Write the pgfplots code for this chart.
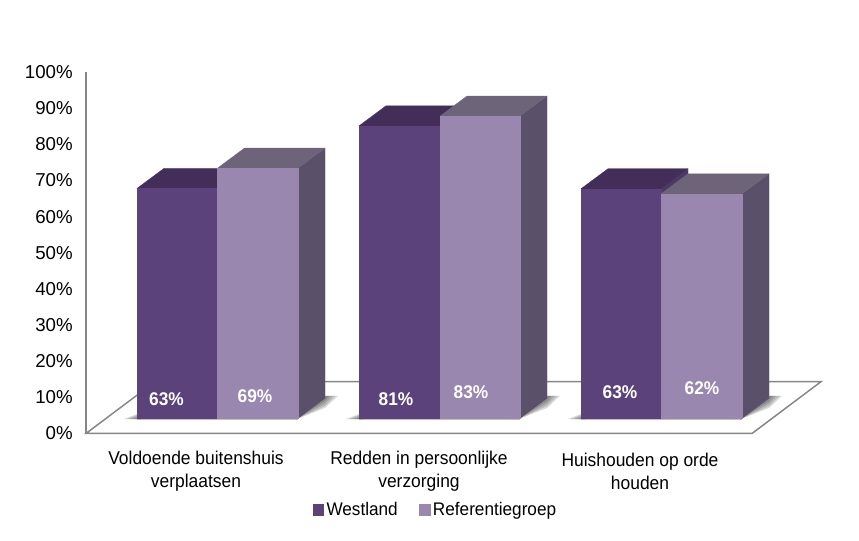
\documentclass[border=0pt]{standalone}
\usepackage{fontspec}
\setmainfont{Liberation Sans}
\newfontfamily\narrowsans[FakeStretch=0.94]{Liberation Sans}
\usepackage{pgfplots}
\pgfplotsset{compat=1.18}
\definecolor{wfront}{RGB}{92,66,122}
\definecolor{wtop}{RGB}{67,46,90}
\definecolor{wside}{RGB}{76,58,98}
\definecolor{rfront}{RGB}{153,135,175}
\definecolor{rtop}{RGB}{110,100,122}
\definecolor{rside}{RGB}{90,80,105}
\definecolor{axisgray}{RGB}{134,134,134}
% x is in reference pixels, y in percent
\newcommand{\ybase}{4.2}
\newcommand{\dx}{27}
\newcommand{\dy}{5.55}
% x left, x right, value, front, top, side
\newcommand{\threedbar}[6]{
 \addplot[forget plot, draw=#6, line width=0.2pt, fill=#6] coordinates {
  (#2,{\ybase}) (#2+\dx,{\ybase+\dy}) (#2+\dx,{\ybase+\dy+#3}) (#2,{\ybase+#3})} -- cycle;
 \addplot[forget plot, draw=#5, line width=0.2pt, fill=#5] coordinates {
  (#1,{\ybase+#3}) (#2,{\ybase+#3}) (#2+\dx,{\ybase+#3+\dy}) (#1+\dx,{\ybase+#3+\dy})} -- cycle;
 \addplot[forget plot, draw=#4, line width=0.2pt, fill=#4] coordinates {
  (#1,{\ybase}) (#2,{\ybase}) (#2,{\ybase+#3}) (#1,{\ybase+#3})} -- cycle;
}
% x left, x right, spread (0 to 1)
\newcommand{\shadowlayer}[3]{
 \addplot[forget plot, draw=none, fill=black, fill opacity=0.14] coordinates {
  (#2-2,{\ybase-0.3}) (#2+27,{\ybase+5.55-2.7*#3}) (#2+27+13*#3,{\ybase+6.2}) (#2+15,{\ybase+6.2})} -- cycle;
 \addplot[forget plot, draw=none, fill=black, fill opacity=0.14] coordinates {
  (#1-13*#3,{\ybase-0.2}) (#1+4,{\ybase-0.2}) (#1+4,{\ybase+0.2+1.4*#3})} -- cycle;
}
\newcommand{\threeshadows}[2]{
 \shadowlayer{#1}{#2}{0.3}
 \shadowlayer{#1}{#2}{0.55}
 \shadowlayer{#1}{#2}{0.8}
 \shadowlayer{#1}{#2}{1}
 \addplot[forget plot, draw=black, draw opacity=0.25, line width=0.7pt] coordinates {
  (#1,{\ybase-0.2}) (#2,{\ybase-0.2})};
}
\begin{document}
\begin{tikzpicture}
 \useasboundingbox (0,0) rectangle (644.25pt,405pt);
 \begin{axis}[
  at={(64.5pt,79.9pt)},
  scale only axis,
  width=554.25pt,
  height=271.1pt,
  xmin=86, xmax=825,
  ymin=0, ymax=100,
  clip=false,
  axis x line=none,
  axis y line*=left,
  y axis line style={draw=axisgray, line width=1.1pt, -},
  ytick={0,10,...,100},
  yticklabel={\pgfmathprintnumber{\tick}\%},
  major tick length=0pt,
  /pgf/number format/assume math mode=true,
  yticklabel style={font=\fontsize{14}{16}\selectfont, text=black, xshift=-6.5pt},
  legend style={
   at={(262.3pt,-57.4pt)},
   anchor=center,
   draw=none,
   fill=none,
   font=\narrowsans\fontsize{13.7}{16}\selectfont,
   legend columns=2,
   /tikz/every even column/.style={column sep=14pt},
  },
  legend image code/.code={
   \fill[#1] (0pt,-3.9pt) rectangle (8pt,4.1pt);
  },
 ]
  \addlegendimage{wfront}
  \addlegendimage{rfront}

  % floor
  \addplot[forget plot, draw=axisgray, line width=1.1pt] coordinates {
   (86,0) (752,0) (821,14.33) (155,14.33)} -- cycle;

  % shadows on the floor
  \threeshadows{137}{298}
  \threeshadows{359}{520}
  \threeshadows{581}{742}

  % Voldoende buitenshuis verplaatsen
  \threedbar{137}{217.5}{63.6}{wfront}{wtop}{wside}
  \threedbar{217.5}{298}{69.2}{rfront}{rtop}{rside}
  % Redden in persoonlijke verzorging
  \threedbar{359}{440}{80.9}{wfront}{wtop}{wside}
  \threedbar{440}{520}{83.6}{rfront}{rtop}{rside}
  % Huishouden op orde houden
  \threedbar{581}{661}{63.5}{wfront}{wtop}{wside}
  \threedbar{661}{742}{62.1}{rfront}{rtop}{rside}

  % value labels
  \addplot[forget plot, draw=none, mark=none,
   point meta=explicit symbolic,
   nodes near coords,
   every node near coord/.style={anchor=center, text=white,
    font=\narrowsans\fontsize{13.8}{14}\bfseries\selectfont}]
   table[meta=lab] {
    x   y    lab
    166.5 9.6  63\%
    255 10.3 69\%
    396 9.6  81\%
    471 11.4 83\%
    620 11.4 63\%
    702 12.5 62\%
   };

  % category labels
  \node[align=center, font=\narrowsans\fontsize{13.9}{17.2}\selectfont] at (axis cs:196,-10.4)
   {Voldoende buitenshuis\\verplaatsen};
  \node[align=center, font=\narrowsans\fontsize{13.9}{17.2}\selectfont] at (axis cs:419,-10.4)
   {Redden in persoonlijke\\verzorging};
  \node[align=center, font=\narrowsans\fontsize{13.9}{17.2}\selectfont] at (axis cs:640,-10.4)
   {Huishouden op orde\\houden};

  \legend{Westland, Referentiegroep}
 \end{axis}
\end{tikzpicture}
\end{document}
